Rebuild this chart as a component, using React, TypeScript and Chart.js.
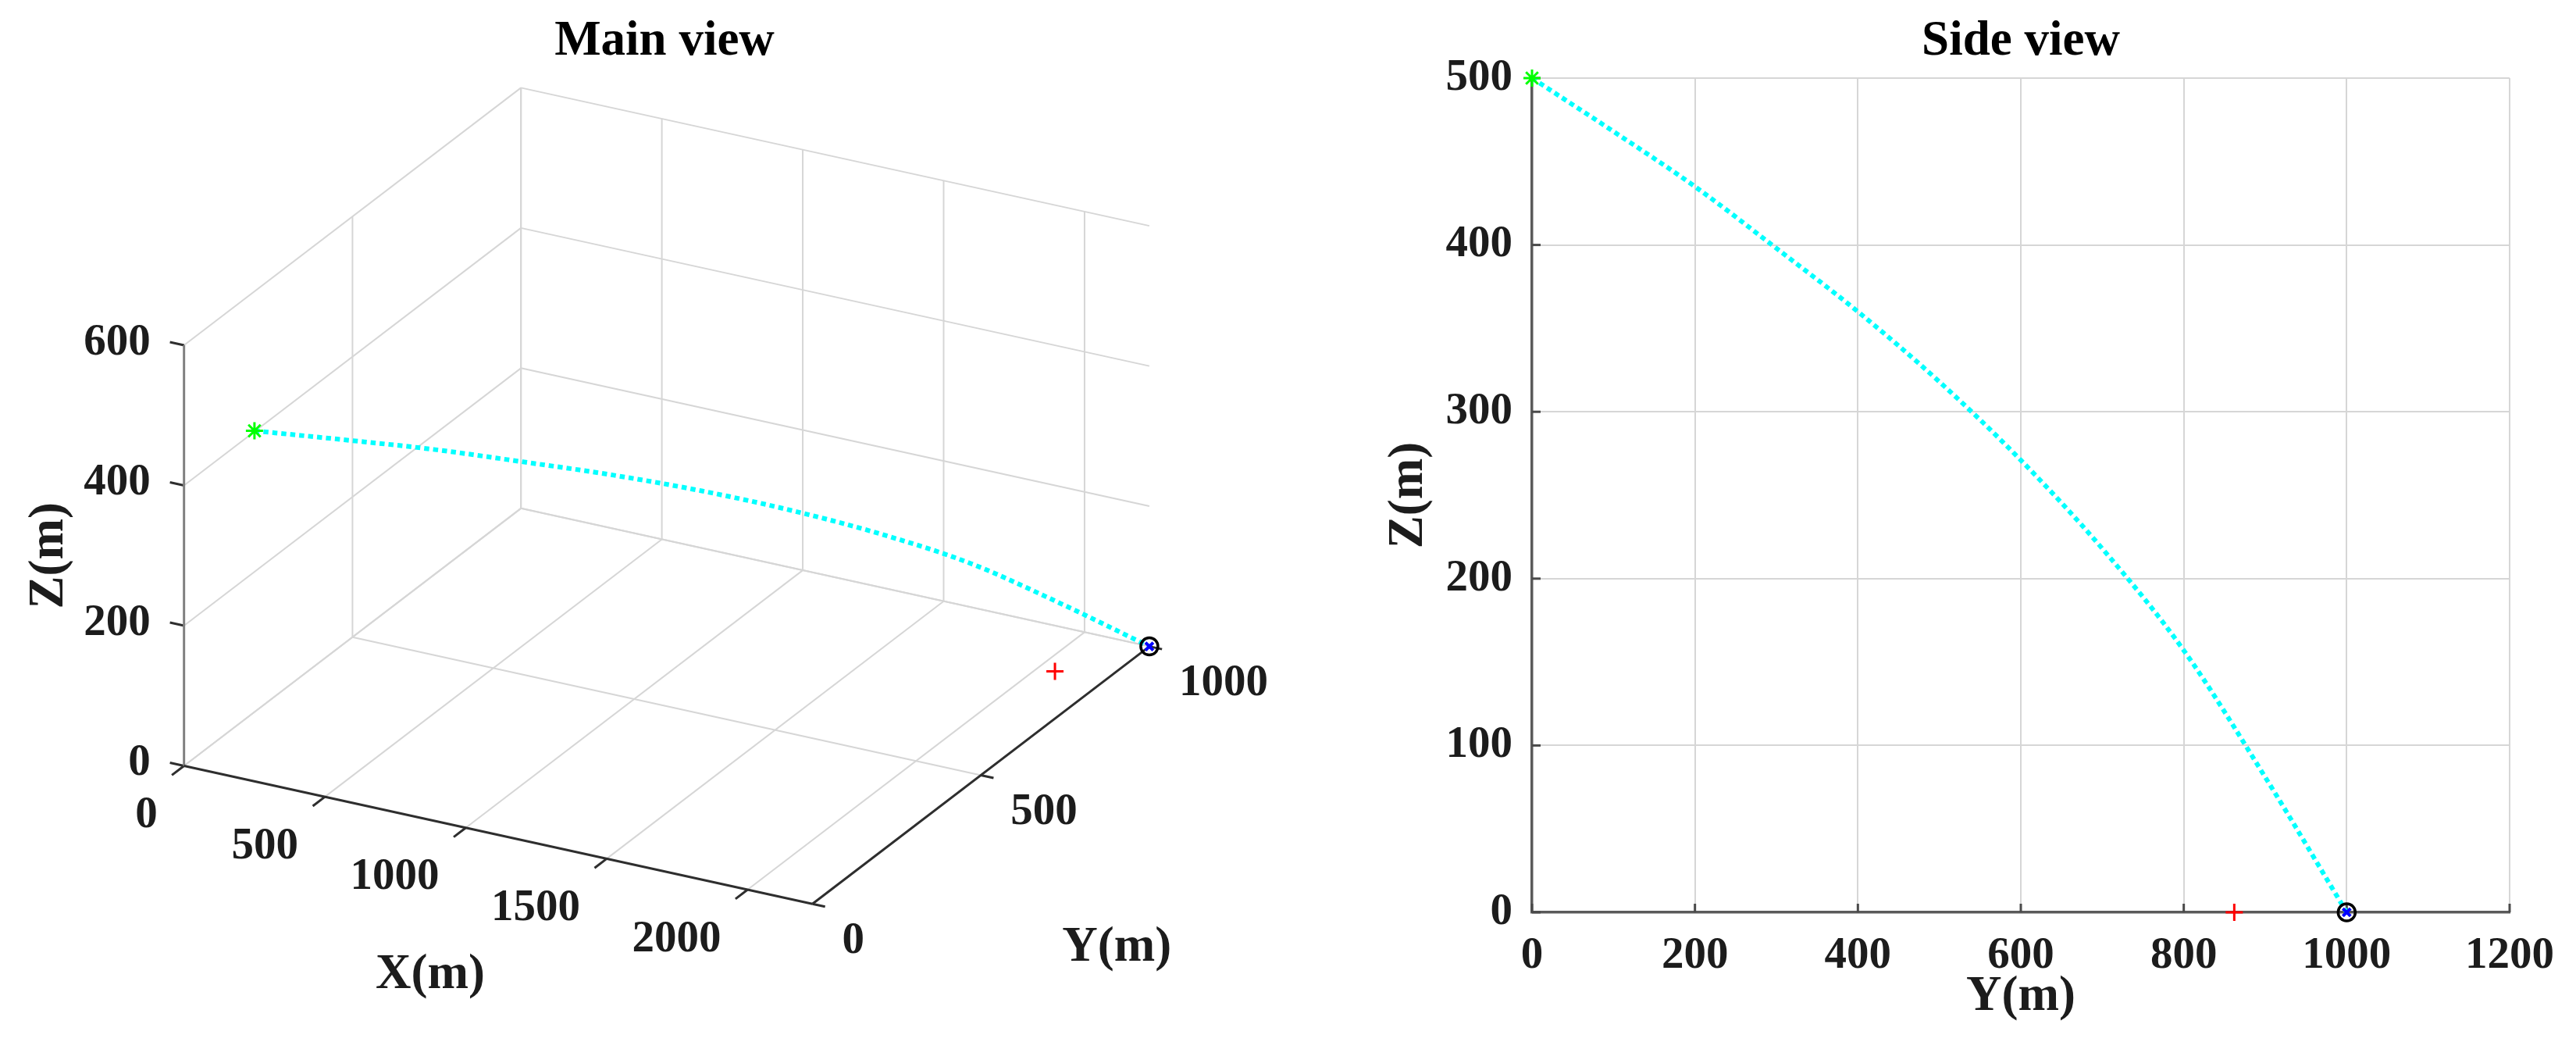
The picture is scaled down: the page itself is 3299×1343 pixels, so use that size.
import React, { useEffect, useRef } from 'react';
import { Chart, registerables } from 'chart.js';
Chart.register(...registerables);

// ---------------- data ----------------
// trajectory samples (m)
const TRAJ_Y = [0, 100, 200, 300, 400, 500, 600, 700, 800, 900, 1000];
const TRAJ_Z = [500, 468, 435, 398, 360, 318, 271, 218, 157, 81, 0];
const TRAJ_X = [250, 448, 646, 844, 1042, 1240, 1438, 1636, 1834, 2032, 2230];
// red "+" marker (target) in m
const TARGET_X = [2060];
const TARGET_Y = [862];
const TARGET_Z = [0];
// 3D axes limits and ticks
const X_LIM = [0, 2230];
const Y_LIM = [0, 1000];
const Z_LIM = [0, 600];
const X_TICKS = [0, 500, 1000, 1500, 2000];
const Y_TICKS = [0, 500, 1000];
const Z_TICKS = [0, 200, 400, 600];
// side view axes
const SIDE_Y_RANGE = [0, 1200];
const SIDE_Y_STEP = 200;
const SIDE_Z_RANGE = [0, 500];
const SIDE_Z_STEP = 100;

// ---------------- style / view ----------------
const FONT_FAMILY = '"Liberation Serif", "Times New Roman", Times, serif';
const TICK_SIZE = 57;
const LABEL_SIZE = 63;
const GRID_COLOR = '#d6d6d6';
const AXIS_DARK = '#2e2e2e';
const AXIS_MID = '#808080';
const TEXT_COLOR = '#1c1c1c';
const CYAN = '#00ffff';

// orthographic camera of the 3D view
const AZ = (28.2 * Math.PI) / 180;
const EL = (24.3 * Math.PI) / 180;
const Z_ASPECT = 0.65;
const LEFT_W = 1700;
const LEFT_H = 1343;
const ORIGIN_PX = { x: 225, y: 987.3 };
const UNIT_PX = 929;

function project(X: number, Y: number, Z: number) {
  const nx = (X - X_LIM[0]) / (X_LIM[1] - X_LIM[0]);
  const ny = (Y - Y_LIM[0]) / (Y_LIM[1] - Y_LIM[0]);
  const nz = ((Z - Z_LIM[0]) / (Z_LIM[1] - Z_LIM[0])) * Z_ASPECT;
  const c = Math.cos(AZ);
  const s = Math.sin(AZ);
  return {
    x: nx * c + ny * s,
    y: nz * Math.cos(EL) + (ny * c - nx * s) * Math.sin(EL),
  };
}

function lineDs(pts: { x: number; y: number }[], color: string, width: number, order: number) {
  return {
    data: pts,
    showLine: true,
    borderColor: color,
    backgroundColor: color,
    borderWidth: width,
    pointRadius: 0,
    pointHoverRadius: 0,
    fill: false,
    tension: 0,
    order,
    clip: false as any,
  };
}

function markerDs(pts: { x: number; y: number }[], style: string, radius: number, color: string, width: number, order: number) {
  return {
    data: pts,
    showLine: false,
    pointStyle: style,
    pointRadius: radius,
    pointHoverRadius: radius,
    borderColor: color,
    pointBorderColor: color,
    backgroundColor: 'rgba(0,0,0,0)',
    pointBackgroundColor: 'rgba(0,0,0,0)',
    borderWidth: width,
    pointBorderWidth: width,
    order,
    clip: false as any,
  };
}

function MainView() {
  const ref = useRef<HTMLCanvasElement>(null);
  useEffect(() => {
    const canvas = ref.current!;
    const xmax = X_LIM[1];
    const ymax = Y_LIM[1];
    const zmax = Z_LIM[1];
    const seg = (a: number[], b: number[]) => [project(a[0], a[1], a[2]), project(b[0], b[1], b[2])];

    const datasets: any[] = [];
    const n = TRAJ_X.length - 1;
    datasets.push(markerDs([project(TRAJ_X[0], TRAJ_Y[0], TRAJ_Z[0])], 'star', 11, '#00ff00', 3, 0));
    datasets.push(markerDs([project(TRAJ_X[n], TRAJ_Y[n], TRAJ_Z[n])], 'circle', 11, '#000000', 3.5, 0));
    datasets.push(markerDs([project(TRAJ_X[n], TRAJ_Y[n], TRAJ_Z[n])], 'crossRot', 7, '#0000ff', 4, 1));
    datasets.push(markerDs([project(TARGET_X[0], TARGET_Y[0], TARGET_Z[0])], 'cross', 11, '#ff0000', 3, 0));
    datasets.push({
      ...lineDs(TRAJ_X.map((x, i) => project(x, TRAJ_Y[i], TRAJ_Z[i])), CYAN, 6, 2),
      borderDash: [6.5, 5],
      cubicInterpolationMode: 'monotone',
    });
    // axes
    datasets.push(lineDs(seg([0, 0, 0], [xmax, 0, 0]), AXIS_DARK, 3, 3));
    datasets.push(lineDs(seg([xmax, 0, 0], [xmax, ymax, 0]), AXIS_DARK, 3, 3));
    datasets.push(lineDs(seg([0, 0, 0], [0, 0, zmax]), AXIS_MID, 3, 3));
    // tick marks
    X_TICKS.forEach((t) => datasets.push(lineDs(seg([t, 0, 0], [t, -36, 0]), AXIS_DARK, 3, 3)));
    Y_TICKS.forEach((t) => datasets.push(lineDs(seg([xmax, t, 0], [xmax + 45, t, 0]), AXIS_DARK, 3, 3)));
    Z_TICKS.forEach((t) => datasets.push(lineDs(seg([0, 0, t], [-50, 0, t]), AXIS_DARK, 3, 3)));
    // grid: left wall (X=0)
    Z_TICKS.forEach((z) => datasets.push(lineDs(seg([0, 0, z], [0, ymax, z]), GRID_COLOR, 2, 4)));
    Y_TICKS.filter((y) => y > 0).forEach((y) => datasets.push(lineDs(seg([0, y, 0], [0, y, zmax]), GRID_COLOR, 2, 4)));
    // back wall (Y=max)
    Z_TICKS.forEach((z) => datasets.push(lineDs(seg([0, ymax, z], [xmax, ymax, z]), GRID_COLOR, 2, 4)));
    X_TICKS.forEach((x) => datasets.push(lineDs(seg([x, ymax, 0], [x, ymax, zmax]), GRID_COLOR, 2, 4)));
    // floor (Z=0)
    X_TICKS.forEach((x) => datasets.push(lineDs(seg([x, 0, 0], [x, ymax, 0]), GRID_COLOR, 2, 4)));
    Y_TICKS.filter((y) => y > 0).forEach((y) => datasets.push(lineDs(seg([0, y, 0], [xmax, y, 0]), GRID_COLOR, 2, 4)));

    const textPlugin = {
      id: 'mainText',
      afterDraw(chart: any) {
        const { ctx } = chart;
        const sx = chart.scales.x;
        const sy = chart.scales.y;
        const px = (X: number, Y: number, Z: number) => {
          const p = project(X, Y, Z);
          return { x: sx.getPixelForValue(p.x), y: sy.getPixelForValue(p.y) };
        };
        ctx.save();
        ctx.fillStyle = TEXT_COLOR;
        ctx.textBaseline = 'middle';
        ctx.font = `bold ${TICK_SIZE}px ${FONT_FAMILY}`;
        ctx.textAlign = 'right';
        Z_TICKS.forEach((t) => {
          const p = px(0, 0, t);
          ctx.fillText(String(t), p.x - 43, p.y - 3);
        });
        X_TICKS.forEach((t) => {
          const p = px(t, 0, 0);
          ctx.fillText(String(t), p.x - 34, p.y + 64);
        });
        ctx.textAlign = 'left';
        Y_TICKS.forEach((t) => {
          const p = px(xmax, t, 0);
          ctx.fillText(String(t), p.x + 38, p.y + 48);
        });
        ctx.font = `bold ${LABEL_SIZE}px ${FONT_FAMILY}`;
        ctx.textAlign = 'center';
        const xm = px(xmax / 2, 0, 0);
        ctx.fillText('X(m)', xm.x - 87, xm.y + 180);
        const ym = px(xmax, ymax / 2, 0);
        ctx.fillText('Y(m)', ym.x + 174, ym.y + 221);
        const zm = px(0, 0, zmax / 2);
        ctx.save();
        ctx.translate(zm.x - 172, zm.y);
        ctx.rotate(-Math.PI / 2);
        ctx.fillText('Z(m)', 0, 0);
        ctx.restore();
        ctx.fillStyle = '#000';
        ctx.fillText('Main view', 851, 54);
        ctx.restore();
      },
    };

    const chart = new Chart(canvas, {
      type: 'scatter',
      data: { datasets },
      options: {
        responsive: false,
        animation: false,
        events: [],
        layout: { padding: 0 },
        plugins: { legend: { display: false }, tooltip: { enabled: false }, title: { display: false } },
        scales: {
          x: {
            type: 'linear',
            display: false,
            bounds: 'data',
            min: -ORIGIN_PX.x / UNIT_PX,
            max: (LEFT_W - ORIGIN_PX.x) / UNIT_PX,
          },
          y: {
            type: 'linear',
            display: false,
            bounds: 'data',
            min: -(LEFT_H - ORIGIN_PX.y) / UNIT_PX,
            max: ORIGIN_PX.y / UNIT_PX,
          },
        },
      } as any,
      plugins: [textPlugin],
    });
    return () => chart.destroy();
  }, []);
  return <canvas ref={ref} width={LEFT_W} height={LEFT_H} style={{ position: 'absolute', left: 0, top: 0 }} />;
}

function SideView() {
  const ref = useRef<HTMLCanvasElement>(null);
  useEffect(() => {
    const canvas = ref.current!;
    const n = TRAJ_Y.length - 1;
    const tickFont = { family: FONT_FAMILY, size: TICK_SIZE, weight: 'bold' as const };
    const labelFont = { family: FONT_FAMILY, size: LABEL_SIZE, weight: 'bold' as const };
    const datasets: any[] = [
      markerDs([{ x: TRAJ_Y[0], y: TRAJ_Z[0] }], 'star', 11, '#00ff00', 3, 0),
      markerDs([{ x: TRAJ_Y[n], y: TRAJ_Z[n] }], 'circle', 11, '#000000', 3.5, 0),
      markerDs([{ x: TRAJ_Y[n], y: TRAJ_Z[n] }], 'crossRot', 7, '#0000ff', 4, 1),
      markerDs([{ x: TARGET_Y[0], y: TARGET_Z[0] }], 'cross', 11, '#ff0000', 3, 0),
      {
        ...lineDs(TRAJ_Y.map((y, i) => ({ x: y, y: TRAJ_Z[i] })), CYAN, 6, 2),
        borderDash: [6.5, 5],
        cubicInterpolationMode: 'monotone',
      },
    ];
    const tickPlugin = {
      id: 'inwardTicks',
      beforeDatasetsDraw(chart: any) {
        const { ctx, chartArea } = chart;
        const sx = chart.scales.x;
        const sy = chart.scales.y;
        ctx.save();
        ctx.strokeStyle = '#4a4a4a';
        ctx.lineWidth = 3;
        sx.ticks.forEach((t: any) => {
          const p = sx.getPixelForValue(t.value);
          ctx.beginPath();
          ctx.moveTo(p, chartArea.bottom);
          ctx.lineTo(p, chartArea.bottom - 11);
          ctx.stroke();
        });
        sy.ticks.forEach((t: any) => {
          const p = sy.getPixelForValue(t.value);
          ctx.beginPath();
          ctx.moveTo(chartArea.left, p);
          ctx.lineTo(chartArea.left + 11, p);
          ctx.stroke();
        });
        ctx.restore();
      },
    };
    const chart = new Chart(canvas, {
      type: 'scatter',
      data: { datasets },
      options: {
        responsive: false,
        animation: false,
        events: [],
        layout: { padding: { left: 0, right: 85, top: 0, bottom: 0 } },
        plugins: {
          legend: { display: false },
          tooltip: { enabled: false },
          title: {
            display: true,
            text: 'Side view',
            fullSize: false,
            color: '#000',
            font: labelFont,
            padding: { top: 16, bottom: 8.4 },
          },
        },
        scales: {
          x: {
            type: 'linear',
            min: SIDE_Y_RANGE[0],
            max: SIDE_Y_RANGE[1],
            bounds: 'data',
            ticks: {
              stepSize: SIDE_Y_STEP,
              font: tickFont,
              color: TEXT_COLOR,
              padding: 22,
              maxRotation: 0,
              autoSkip: false,
              callback: (v: any) => String(v),
            },
            grid: { color: GRID_COLOR, lineWidth: 2, drawTicks: false },
            border: { color: '#5a5a5a', width: 3.5 },
            title: { display: true, text: 'Y(m)', font: labelFont, color: TEXT_COLOR, padding: { top: 0, bottom: 28 } },
            afterFit: (s: any) => {
              s.height = 175;
            },
          },
          y: {
            type: 'linear',
            min: SIDE_Z_RANGE[0],
            max: SIDE_Z_RANGE[1],
            bounds: 'data',
            ticks: {
              stepSize: SIDE_Z_STEP,
              font: tickFont,
              color: TEXT_COLOR,
              padding: 25,
              callback: (v: any) => String(v),
            },
            grid: { color: GRID_COLOR, lineWidth: 2, drawTicks: false },
            border: { color: '#5a5a5a', width: 3.5 },
            title: { display: true, text: 'Z(m)', font: labelFont, color: TEXT_COLOR, padding: { top: 67, bottom: 0 } },
            afterFit: (s: any) => {
              s.width = 262;
            },
          },
        },
      } as any,
      plugins: [tickPlugin],
    });
    return () => chart.destroy();
  }, []);
  return <canvas ref={ref} width={1599} height={1343} style={{ position: 'absolute', left: 1700, top: 0 }} />;
}

export default function App() {
  return (
    <div style={{ position: 'absolute', left: 0, top: 0, width: 3299, height: 1343, background: '#fff', overflow: 'hidden' }}>
      <MainView />
      <SideView />
    </div>
  );
}
